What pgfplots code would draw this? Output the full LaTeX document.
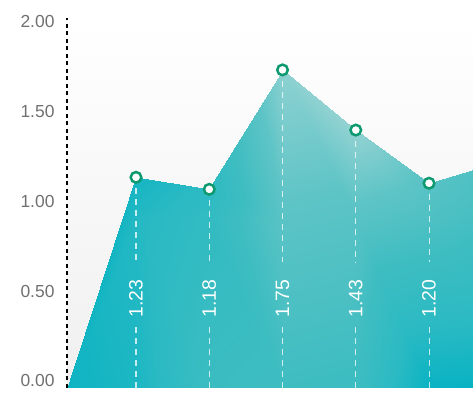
\documentclass[border=0pt]{standalone}
\usepackage{pgfplots}
\pgfplotsset{compat=1.18}
\usepackage{pgfplotstable}
\usepackage{fontspec}
\setmainfont{Liberation Sans}

\definecolor{tickgray}{HTML}{707070}
\definecolor{markgreen}{HTML}{0E9A70}
\definecolor{lastlab}{HTML}{2F9E8A}

% x = year, y = drawn height, label = printed value
\pgfplotstableread{
x     y      label
2552  -0.11  {}
2553  1.133  1.23
2554  1.066  1.18
2555  1.731  1.75
2556  1.396  1.43
2557  1.100  1.20
2558  1.223  {}
}\rates

% the same area cut into two bands of rectangles, c = shade of each corner
\pgfplotstableread{
x     y      c
2552  -0.11  0.1
2553  -0.04  0.6
2553  0.9    0.8
2552  -0.11  0.2
2553  -0.04  0.6
2554  -0.04  1.8
2554  0.9    1.4
2553  0.9    0.8
2554  -0.04  1.8
2555  -0.04  2.0
2555  0.9    2.9
2554  0.9    1.4
2555  -0.04  2.0
2556  -0.04  1.9
2556  0.9    2.8
2555  0.9    2.9
2556  -0.04  1.9
2557  -0.04  0.1
2557  0.9    2.5
2556  0.9    2.8
2557  -0.04  0.1
2558  -0.04  0.0
2558  0.9    2.1
2557  0.9    2.5
2552  -0.11  0.2
2553  0.9    0.8
2553  1.133  0.4
2552  -0.11  0.2
2553  0.9    0.8
2554  0.9    1.4
2554  1.066  1.1
2553  1.133  0.4
2554  0.9    1.4
2555  0.9    2.9
2555  1.731  3.8
2554  1.066  1.1
2555  0.9    2.9
2556  0.9    2.8
2556  1.396  3.9
2555  1.731  3.8
2556  0.9    2.8
2557  0.9    2.5
2557  1.100  2.8
2556  1.396  3.9
2557  0.9    2.5
2558  0.9    2.1
2558  1.223  2.4
2557  1.100  2.8
}\facets

\begin{document}
\begin{tikzpicture}
\begin{axis}[
  scale only axis,
  width=406bp, height=370bp,
  xmin=2552.058, xmax=2557.6,
  ymin=-0.04, ymax=2.02,
  clip=true,
  axis x line=none,
  axis y line*=left,
  y axis line style={black, line width=1.6bp, dash pattern=on 4bp off 3.5bp, -},
  ytick={0,0.5,1,1.5,2},
  major tick length=0pt,
  yticklabel style={text=tickgray, font=\fontsize{17.5}{19}\selectfont, xshift=-9bp},
  /pgf/number format/.cd, fixed, fixed zerofill, precision=2, assume math mode=true,
  /pgfplots/.cd,
  axis background/.style={top color=white, middle color=white, bottom color=black!6},
  colormap={facet}{rgb255=(6,178,195) rgb255=(43,186,195) rgb255=(62,189,193)
    rgb255=(94,196,198) rgb255=(154,212,212)},
  point meta min=0, point meta max=4,
]
% area
\addplot[patch, patch type=rectangle, shader=interp, draw=none]
  table[x=x, y=y, point meta=\thisrow{c}] {\facets};
% dashed drop lines, upper part
\addplot[draw=none, mark=none, restrict x to domain=2553:2557,
  error bars/.cd, y dir=minus, y explicit,
  error mark=none,
  error bar style={white, opacity=0.75, line width=1.1bp, dash pattern=on 6bp off 5bp}]
  table[x=x, y=y, y error minus expr=\thisrow{y}-0.66] {\rates};
% dashed drop lines, lower part
\addplot[draw=none, mark=none, restrict x to domain=2553:2557,
  error bars/.cd, y dir=minus, y explicit,
  error mark=none,
  error bar style={white, opacity=0.75, line width=1.1bp, dash pattern=on 6bp off 5bp}]
  table[x=x, y expr=0.30, y error minus expr=0.34] {\rates};
% value labels
\addplot[draw=none, mark=none, restrict x to domain=2553:2557,
  nodes near coords, point meta=explicit symbolic,
  every node near coord/.append style={rotate=90, anchor=west, inner sep=0pt,
    text=white, font=\fontsize{19.5}{21}\selectfont}]
  table[x=x, y expr=0.35, meta=label] {\rates};
% markers
\addplot[only marks, restrict x to domain=2553:2557,
  mark=*, mark size=5.3bp, mark options={draw=markgreen, fill=white, line width=2.5bp}]
  table[x=x, y=y] {\rates};
% x labels
\foreach \yr in {2553,2554,2555,2556} {
  \edef\tmp{\noexpand\node[text=tickgray, font=\noexpand\fontsize{15.5}{17}\noexpand\selectfont, anchor=north]
    at (axis cs:\yr,-0.04) [yshift=-6bp] {\yr};}
  \tmp
}
\node[text=lastlab, font=\fontsize{15.5}{17}\selectfont\bfseries, anchor=north]
  at (axis cs:2557,-0.04) [yshift=-6bp] {2557};
\end{axis}
\pgfresetboundingbox
\path[use as bounding box] ([shift={(-67bp,-23bp)}]current axis.south west)
  rectangle ([shift={(0bp,18bp)}]current axis.north east);
\end{tikzpicture}
\end{document}
